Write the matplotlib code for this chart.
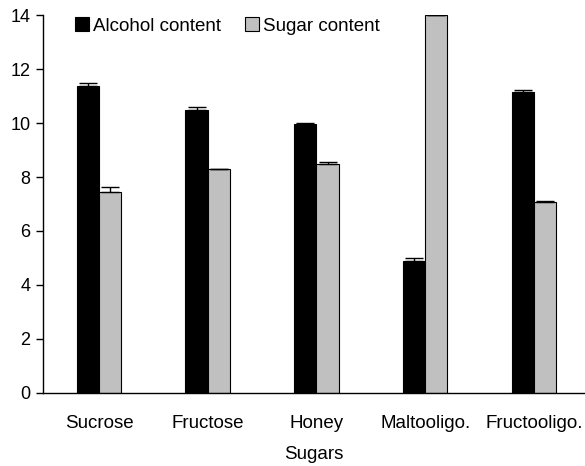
import matplotlib
matplotlib.use("Agg")
import matplotlib.pyplot as plt
import numpy as np

plt.rcParams['font.family'] = ['Liberation Sans', 'DejaVu Sans']

categories = ["Sucrose", "Fructose", "Honey", "Maltooligo.", "Fructooligo."]
alcohol = [11.37, 10.49, 9.97, 4.88, 11.15]
alcohol_err = [0.13, 0.10, 0.03, 0.13, 0.08]
sugar = [7.46, 8.29, 8.48, 14.0, 7.08]
sugar_err = [0.16, 0.02, 0.09, 0.02, 0.02]
y_ticks = [0, 2, 4, 6, 8, 10, 12, 14]

fig = plt.figure(figsize=(5.85, 4.66), dpi=100)
ax = fig.add_axes([43 / 585, 1 - 392.7 / 466, 1 - 43 / 585, (392.7 - 15.3) / 466])

x = np.arange(len(categories))
w = 0.205

ax.bar(x - w / 2, alcohol, width=w, color="black", edgecolor="black",
       linewidth=0.8, label="Alcohol content", zorder=2)
ax.bar(x + w / 2, sugar, width=w, color="#c0c0c0", edgecolor="black",
       linewidth=0.8, label="Sugar content", zorder=2)

zeros = np.zeros(len(categories))
ax.errorbar(x - w / 2, alcohol, yerr=[zeros, alcohol_err], fmt="none",
            ecolor="black", elinewidth=1.0, capsize=6.5, capthick=1.0, zorder=3)
ax.errorbar(x + w / 2, sugar, yerr=[zeros, sugar_err], fmt="none",
            ecolor="black", elinewidth=1.0, capsize=6.5, capthick=1.0, zorder=3)

ax.set_xlim(-0.515, 4.47)
ax.set_ylim(0, 14)
ax.set_yticks(y_ticks)
ax.set_xticks(x)
ax.set_xticklabels(categories, fontsize=13.5)
ax.tick_params(axis="x", length=0, pad=16)
ax.tick_params(axis="y", direction="out", length=5, width=1, labelsize=13, pad=4)
ax.set_xlabel("Sugars", fontsize=13.5, labelpad=10)

for side in ("top", "right"):
    ax.spines[side].set_visible(False)
for side in ("left", "bottom"):
    ax.spines[side].set_linewidth(1.0)
    ax.spines[side].set_color("black")

leg = ax.legend(ncol=2, frameon=False, fontsize=13.5, loc="upper left",
                bbox_to_anchor=(0.045, 1.015), handlelength=0.75,
                handleheight=0.75, handletextpad=0.2, columnspacing=1.3,
                borderaxespad=0)

fig.savefig("out.png", dpi=100)
